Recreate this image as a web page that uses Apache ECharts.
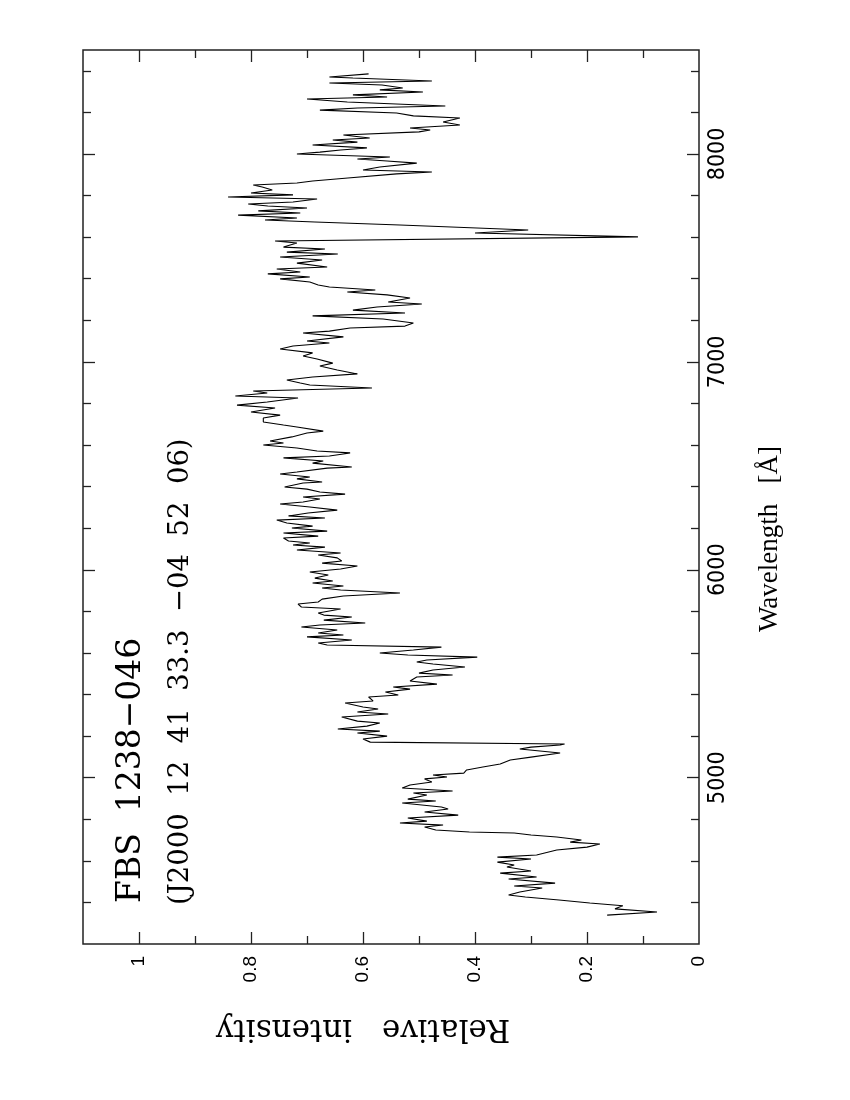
<!DOCTYPE html>
<html>
<head>
<meta charset="utf-8">
<title>FBS 1238-046</title>
<script src="https://cdn.jsdelivr.net/npm/echarts@6/dist/echarts.min.js"></script>
<style>
html, body { margin: 0; padding: 0; background: #fff; }
#chart { width: 850px; height: 1100px; }
</style>
</head>
<body>
<div id="chart"></div>
<script>
// spectrum: wavelength (A) and relative intensity
var wavelength = [
  4339, 4354, 4369, 4384, 4397, 4412, 4426, 4436, 4450, 4469,
  4479, 4493, 4513, 4522, 4541, 4551, 4570, 4580, 4594, 4609,
  4618, 4628, 4652, 4666, 4681, 4690, 4700, 4715, 4724, 4734,
  4739, 4748, 4763, 4772, 4782, 4791, 4806, 4820, 4835, 4849,
  4859, 4878, 4888, 4897, 4917, 4926, 4936, 4950, 4965, 4979,
  4994, 5003, 5013, 5022, 5037, 5051, 5066, 5085, 5099, 5119,
  5138, 5147, 5157, 5162, 5171, 5186, 5200, 5215, 5224, 5234,
  5248, 5263, 5272, 5292, 5306, 5316, 5330, 5340, 5359, 5369,
  5388, 5398, 5412, 5426, 5436, 5450, 5465, 5484, 5494, 5503,
  5518, 5532, 5547, 5556, 5566, 5580, 5590, 5600, 5614, 5628,
  5638, 5648, 5662, 5677, 5686, 5696, 5710, 5725, 5734, 5744,
  5758, 5773, 5782, 5792, 5811, 5821, 5835, 5845, 5859, 5874,
  5888, 5903, 5912, 5922, 5936, 5946, 5960, 5975, 5989, 6004,
  6018, 6032, 6042, 6057, 6071, 6081, 6095, 6109, 6119, 6129,
  6138, 6153, 6162, 6177, 6186, 6201, 6210, 6225, 6239, 6249,
  6259, 6273, 6287, 6302, 6316, 6326, 6340, 6350, 6364, 6374,
  6388, 6398, 6417, 6422, 6437, 6446, 6461, 6470, 6489, 6494,
  6513, 6523, 6538, 6547, 6562, 6571, 6586, 6600, 6610, 6619,
  6639, 6658, 6667, 6687, 6696, 6711, 6730, 6744, 6759, 6778,
  6792, 6807, 6826, 6836, 6850, 6860, 6874, 6889, 6898, 6913,
  6927, 6942, 6961, 6980, 6994, 7014, 7028, 7043, 7062, 7076,
  7091, 7100, 7120, 7139, 7148, 7163, 7172, 7187, 7206, 7221,
  7235, 7249, 7264, 7278, 7288, 7307, 7322, 7336, 7346, 7360,
  7370, 7384, 7399, 7408, 7423, 7432, 7447, 7456, 7475, 7490,
  7504, 7519, 7528, 7543, 7552, 7572, 7581, 7601, 7620, 7634,
  7658, 7673, 7682, 7692, 7706, 7716, 7726, 7740, 7750, 7759,
  7769, 7783, 7793, 7803, 7812, 7827, 7841, 7851, 7860, 7870,
  7884, 7904, 7913, 7923, 7937, 7956, 7966, 7976, 7985, 8000,
  8009, 8019, 8029, 8043, 8057, 8067, 8077, 8091, 8106, 8115,
  8125, 8139, 8154, 8173, 8183, 8197, 8211, 8221, 8231, 8250,
  8264, 8274, 8284, 8298, 8308, 8317, 8332, 8341, 8351, 8365,
  8370, 8385
];
var intensity = [
  0.164, 0.075, 0.15, 0.136, 0.195, 0.25, 0.31, 0.34, 0.32, 0.28,
  0.33, 0.257, 0.34, 0.29, 0.355, 0.30, 0.343, 0.33, 0.36, 0.30,
  0.36, 0.29, 0.254, 0.20, 0.177, 0.23, 0.21, 0.254, 0.30, 0.33,
  0.41, 0.47, 0.49, 0.457, 0.534, 0.486, 0.52, 0.43, 0.49, 0.448,
  0.46, 0.53, 0.47, 0.52, 0.486, 0.51, 0.44, 0.53, 0.516, 0.477,
  0.49, 0.45, 0.475, 0.42, 0.415, 0.386, 0.355, 0.337, 0.30, 0.248,
  0.32, 0.30, 0.248, 0.24, 0.587, 0.60, 0.557, 0.61, 0.57, 0.645,
  0.593, 0.57, 0.61, 0.638, 0.555, 0.61, 0.573, 0.60, 0.632, 0.582,
  0.59, 0.537, 0.56, 0.516, 0.546, 0.468, 0.516, 0.504, 0.44, 0.50,
  0.475, 0.418, 0.475, 0.504, 0.486, 0.396, 0.52, 0.57, 0.51, 0.46,
  0.664, 0.68, 0.62, 0.70, 0.635, 0.68, 0.646, 0.71, 0.677, 0.596,
  0.67, 0.62, 0.67, 0.68, 0.64, 0.71, 0.716, 0.68, 0.673, 0.635,
  0.534, 0.64, 0.673, 0.635, 0.69, 0.654, 0.686, 0.662, 0.695, 0.64,
  0.61, 0.673, 0.638, 0.646, 0.68, 0.64, 0.718, 0.668, 0.725, 0.695,
  0.733, 0.742, 0.68, 0.742, 0.664, 0.727, 0.69, 0.736, 0.754, 0.668,
  0.733, 0.698, 0.646, 0.695, 0.748, 0.707, 0.677, 0.707, 0.632, 0.677,
  0.70, 0.74, 0.707, 0.673, 0.718, 0.695, 0.748, 0.718, 0.664, 0.62,
  0.69, 0.671, 0.742, 0.66, 0.623, 0.682, 0.718, 0.778, 0.742, 0.766,
  0.727, 0.70, 0.671, 0.718, 0.742, 0.778, 0.778, 0.748, 0.80, 0.757,
  0.825, 0.771, 0.716, 0.828, 0.771, 0.796, 0.584, 0.695, 0.712, 0.736,
  0.69, 0.61, 0.646, 0.677, 0.654, 0.682, 0.707, 0.69, 0.748, 0.725,
  0.66, 0.70, 0.635, 0.707, 0.66, 0.623, 0.525, 0.51, 0.564, 0.69,
  0.525, 0.618, 0.575, 0.495, 0.555, 0.516, 0.557, 0.628, 0.578, 0.66,
  0.68, 0.695, 0.748, 0.695, 0.77, 0.712, 0.754, 0.664, 0.718, 0.673,
  0.748, 0.645, 0.736, 0.668, 0.742, 0.718, 0.757, 0.109, 0.40, 0.305,
  0.534, 0.686, 0.775, 0.718, 0.823, 0.712, 0.787, 0.70, 0.77, 0.805,
  0.725, 0.682, 0.841, 0.725, 0.80, 0.762, 0.78, 0.796, 0.718, 0.69,
  0.627, 0.54, 0.477, 0.60, 0.57, 0.504, 0.557, 0.61, 0.552, 0.718,
  0.677, 0.64, 0.593, 0.69, 0.61, 0.654, 0.588, 0.635, 0.50, 0.48,
  0.516, 0.427, 0.457, 0.427, 0.51, 0.54, 0.677, 0.61, 0.453, 0.628,
  0.70, 0.557, 0.618, 0.493, 0.57, 0.529, 0.566, 0.66, 0.477, 0.618,
  0.66, 0.59
];

var intensityLabels = [0, 0.2, 0.4, 0.6, 0.8, 1];
var intensityMajor = [0.2, 0.4, 0.6, 0.8, 1];
var intensityMinor = [0.1, 0.3, 0.5, 0.7, 0.9];
var waveMajor = [5000, 6000, 7000, 8000];
var waveMinor = [4400, 4600, 4800, 5200, 5400, 5600, 5800, 6200, 6400,
  6600, 6800, 7200, 7400, 7600, 7800, 8200, 8400];

var chart = echarts.init(document.getElementById('chart'));

var spectrum = wavelength.map(function (w, i) {
  return [intensity[i], w];
});

var serif = '"DejaVu Serif", "Liberation Serif", serif';
var tickColor = '#222';

function intensityAxis(pos, ticks, len, labels) {
  return {
    type: 'value',
    position: pos,
    min: 0,
    max: 1.1,
    inverse: true,
    axisLine: { show: false, onZero: false },
    splitLine: { show: false },
    axisTick: {
      inside: true,
      length: len,
      customValues: ticks,
      lineStyle: { color: tickColor, width: 1.3 }
    },
    axisLabel: labels ? {
      rotate: 90,
      margin: 12,
      customValues: labels,
      color: '#000',
      fontSize: 19,
      fontFamily: 'Liberation Sans, Arial, sans-serif',
      formatter: function (v) { return String(v); }
    } : { show: false }
  };
}

function waveAxis(pos, ticks, len, labels) {
  return {
    type: 'value',
    position: pos,
    min: 4200,
    max: 8500,
    axisLine: { show: false, onZero: false },
    splitLine: { show: false },
    axisTick: {
      inside: true,
      length: len,
      customValues: ticks,
      lineStyle: { color: tickColor, width: 1.3 }
    },
    axisLabel: labels ? {
      rotate: 90,
      margin: 8,
      customValues: labels,
      color: '#000',
      fontSize: 23,
      fontFamily: '"Liberation Sans Narrow", "DejaVu Sans Condensed", "Liberation Sans", sans-serif',
      formatter: function (v) { return String(v); }
    } : { show: false }
  };
}

var option = {
  backgroundColor: '#fff',
  animation: false,
  grid: {
    left: 83,
    right: 151,
    top: 50,
    bottom: 156,
    show: true,
    borderColor: '#222',
    borderWidth: 1.5,
    backgroundColor: 'transparent'
  },
  xAxis: [
    intensityAxis('bottom', intensityMajor, 12, intensityLabels),
    intensityAxis('bottom', intensityMinor, 8),
    intensityAxis('top', intensityMajor, 12),
    intensityAxis('top', intensityMinor, 8)
  ],
  yAxis: [
    waveAxis('right', waveMajor, 12, waveMajor),
    waveAxis('right', waveMinor, 8),
    waveAxis('left', waveMajor, 12),
    waveAxis('left', waveMinor, 8)
  ],
  graphic: [
    {
      type: 'text', x: 131, y: 903, rotation: Math.PI / 2,
      style: {
        text: 'FBS  1238\u2212046', fill: '#000', font: '33px ' + serif,
        textAlign: 'left', textVerticalAlign: 'middle', align: 'left', verticalAlign: 'middle'
      }
    },
    {
      type: 'text', x: 181, y: 905, rotation: Math.PI / 2,
      style: {
        text: '(J2000  12  41  33.3  \u221204  52  06)', fill: '#000', font: '27.5px ' + serif,
        textAlign: 'left', textVerticalAlign: 'middle', align: 'left', verticalAlign: 'middle'
      }
    },
    {
      type: 'text', x: 770, y: 632, rotation: Math.PI / 2,
      style: {
        text: 'Wavelength   [\u00c5]', fill: '#000', font: '27px "Liberation Serif", "DejaVu Serif", serif',
        textAlign: 'left', textVerticalAlign: 'middle', align: 'left', verticalAlign: 'middle'
      }
    },
    {
      type: 'text', x: 363, y: 1028, rotation: Math.PI,
      style: {
        text: 'Relative   intensity', fill: '#000', font: '31px ' + serif,
        textAlign: 'center', textVerticalAlign: 'middle', align: 'center', verticalAlign: 'middle'
      }
    }
  ],
  series: [
    {
      type: 'line',
      xAxisIndex: 0,
      yAxisIndex: 0,
      data: spectrum,
      showSymbol: false,
      symbol: 'none',
      lineStyle: { color: '#000', width: 1.1 }
    }
  ]
};

chart.setOption(option);
</script>
</body>
</html>
